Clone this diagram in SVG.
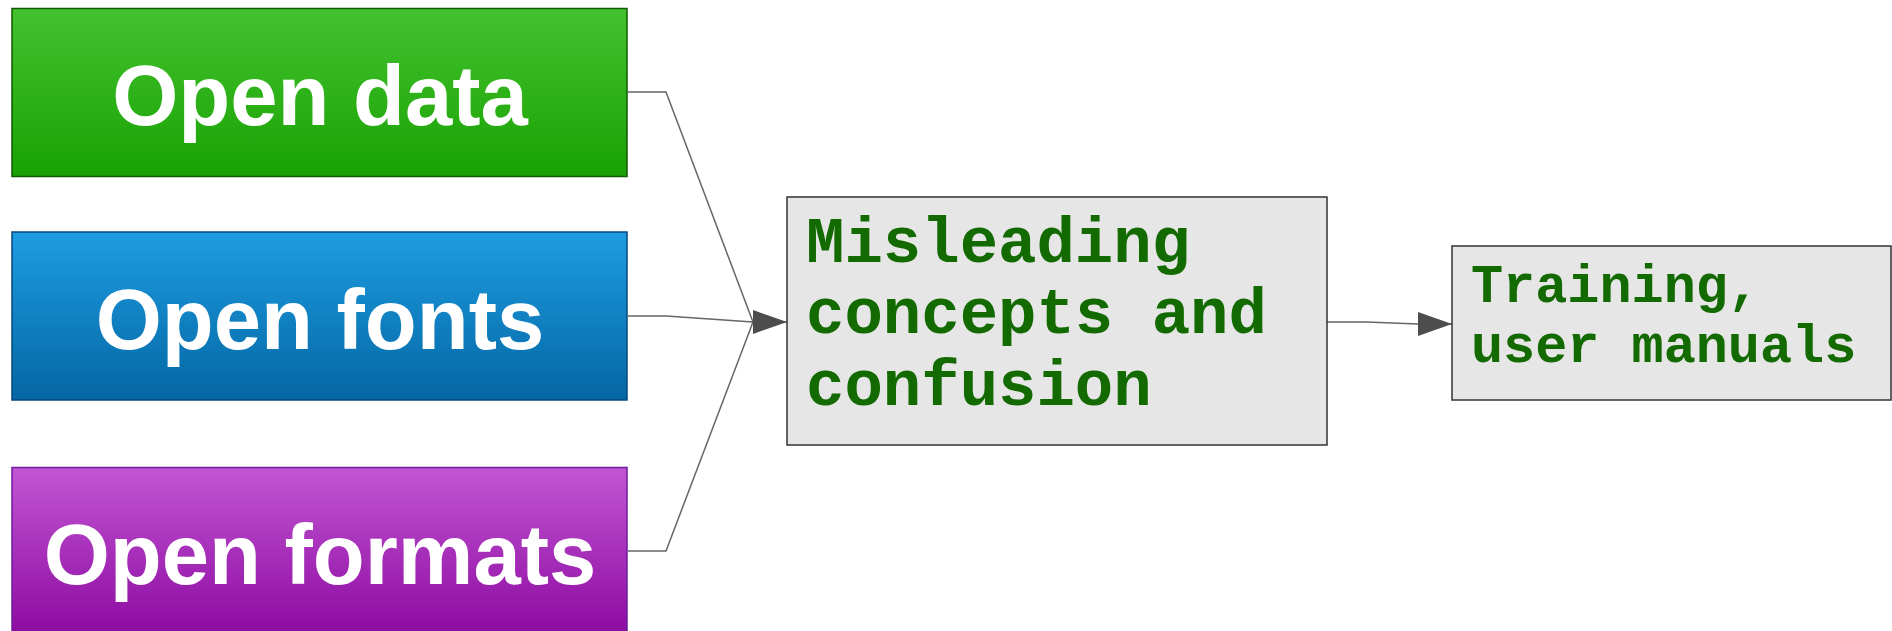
<svg xmlns="http://www.w3.org/2000/svg" width="1892" height="631" viewBox="0 0 1892 631">
<defs>
<linearGradient id="gGreen" x1="0" y1="0" x2="0" y2="1"><stop offset="0" stop-color="#45c22f"/><stop offset="1" stop-color="#18a203"/></linearGradient>
<linearGradient id="gBlue" x1="0" y1="0" x2="0" y2="1"><stop offset="0" stop-color="#1e9ce1"/><stop offset="1" stop-color="#0467a3"/></linearGradient>
<linearGradient id="gPurple" x1="0" y1="0" x2="0" y2="1"><stop offset="0" stop-color="#c256d3"/><stop offset="1" stop-color="#8c0aa0"/></linearGradient>
<marker id="arr" viewBox="0 0 34 24" refX="34" refY="12" markerWidth="34" markerHeight="24" markerUnits="userSpaceOnUse" orient="auto"><path d="M0,0 L34,12 L0,24 Z" fill="#4d4d4d"/></marker>
</defs>
<style>
.big{font-family:"Liberation Sans",Arial,sans-serif;font-weight:bold;font-size:85px;fill:#fff;text-anchor:middle}
.mono{font-family:"Liberation Mono","Courier New",monospace;font-weight:bold;fill:#136a00}
.conn{fill:none;stroke:#666;stroke-width:1.5}
.grey{fill:#e6e6e6;stroke:#333;stroke-width:1.5}
</style>
<rect width="1892" height="631" fill="#fff"/>
<g id="connectors">
<polyline class="conn" points="628,92 666,92 753,322"/>
<polyline class="conn" points="628,316 666,316 753,322"/>
<polyline class="conn" points="628,551 666,551 753,322"/>
<line class="conn" x1="753" y1="322" x2="787" y2="322" marker-end="url(#arr)"/>
<polyline class="conn" points="1327,322 1367,322 1418,324"/>
<line class="conn" x1="1418" y1="324" x2="1452" y2="324" marker-end="url(#arr)"/>
</g>
<g id="open-data">
<rect x="12" y="8.5" width="615" height="168" fill="url(#gGreen)" stroke="#0e5a00" stroke-width="1.5"/>
<text class="big" x="320" y="125">Open data</text>
</g>
<g id="open-fonts">
<rect x="12" y="232" width="615" height="168" fill="url(#gBlue)" stroke="#06487a" stroke-width="1.5"/>
<text class="big" x="320" y="349">Open fonts</text>
</g>
<g id="open-formats">
<rect x="12" y="467.5" width="615" height="168" fill="url(#gPurple)" stroke="#6c1ca0" stroke-width="1.5"/>
<text class="big" x="320" y="584">Open formats</text>
</g>
<g id="misleading">
<rect class="grey" x="787" y="197" width="540" height="248"/>
<text class="mono" font-size="64"><tspan x="806" y="262">Misleading</tspan><tspan x="806" y="333">concepts and</tspan><tspan x="806" y="405">confusion</tspan></text>
</g>
<g id="training">
<rect class="grey" x="1452" y="246" width="439" height="154"/>
<text class="mono" font-size="53.5"><tspan x="1471" y="302">Training,</tspan><tspan x="1471" y="362">user manuals</tspan></text>
</g>
</svg>
